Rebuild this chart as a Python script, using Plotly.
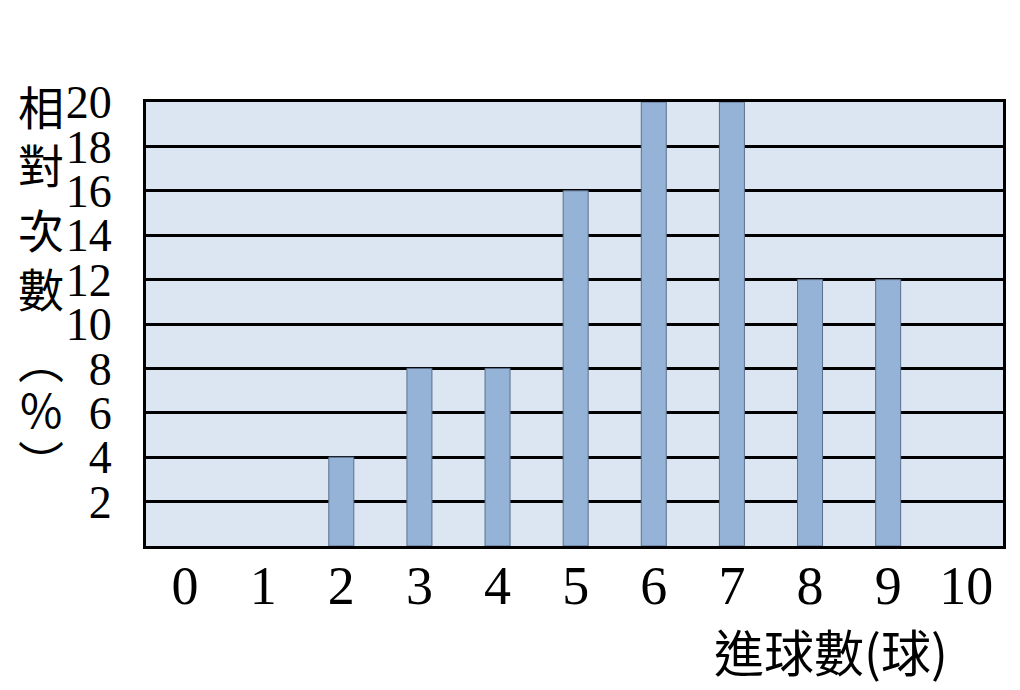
import plotly.graph_objects as go

# 進球數 與 相對次數(%)
goals = [2, 3, 4, 5, 6, 7, 8, 9]
rel_freq = [4, 8, 8, 16, 20, 20, 12, 12]
x_ticks = [0, 1, 2, 3, 4, 5, 6, 7, 8, 9, 10]
y_ticks = [2, 4, 6, 8, 10, 12, 14, 16, 18, 20]
y_title_chars = ["相", "對", "次", "數", "︵", "%", "︶"]
y_title_pos = [105, 163, 228, 287, 358, 408, 460]

fig = go.Figure()
fig.add_trace(go.Bar(
    x=goals, y=rel_freq, width=0.32,
    marker=dict(color="#95b3d7", line=dict(color="#5b6f8c", width=1)),
))

# vertical y-axis title, one character per annotation
for ch, ypix in zip(y_title_chars, y_title_pos):
    fig.add_annotation(
        text=ch, xref="paper", yref="paper", x=-0.123, y=(546 - ypix) / 444,
        showarrow=False, xanchor="center", yanchor="middle",
        font=dict(family="Noto Sans CJK TC", size=46, color="black"),
    )

fig.add_annotation(
    text="進球數(球)", xref="paper", yref="paper", x=0.799, y=-0.235,
    showarrow=False, xanchor="center", yanchor="middle",
    font=dict(family="Noto Sans CJK TC, Liberation Serif", size=50, color="black"),
)

# page body has an 8px margin, so the figure is a bit smaller than the window
fig.update_layout(
    width=1004, height=674,
    margin=dict(l=138, r=6, t=94, b=136),
    paper_bgcolor="white", plot_bgcolor="#dce6f2",
    showlegend=False,
    font=dict(family="Liberation Serif", size=46, color="black"),
)
fig.update_xaxes(
    range=[-0.5, 10.47], tickvals=x_ticks, ticks="", ticklabelstandoff=-10,
    tickfont=dict(size=54),
    showgrid=False, showline=True, linecolor="black", linewidth=3, mirror=True,
    zeroline=False,
)
fig.update_yaxes(
    range=[0, 20], tickvals=y_ticks, ticks="", ticklabelstandoff=22,
    showgrid=True, gridcolor="black", gridwidth=3,
    showline=True, linecolor="black", linewidth=3, mirror=True,
    zeroline=False,
)

fig.write_html("out.html")
